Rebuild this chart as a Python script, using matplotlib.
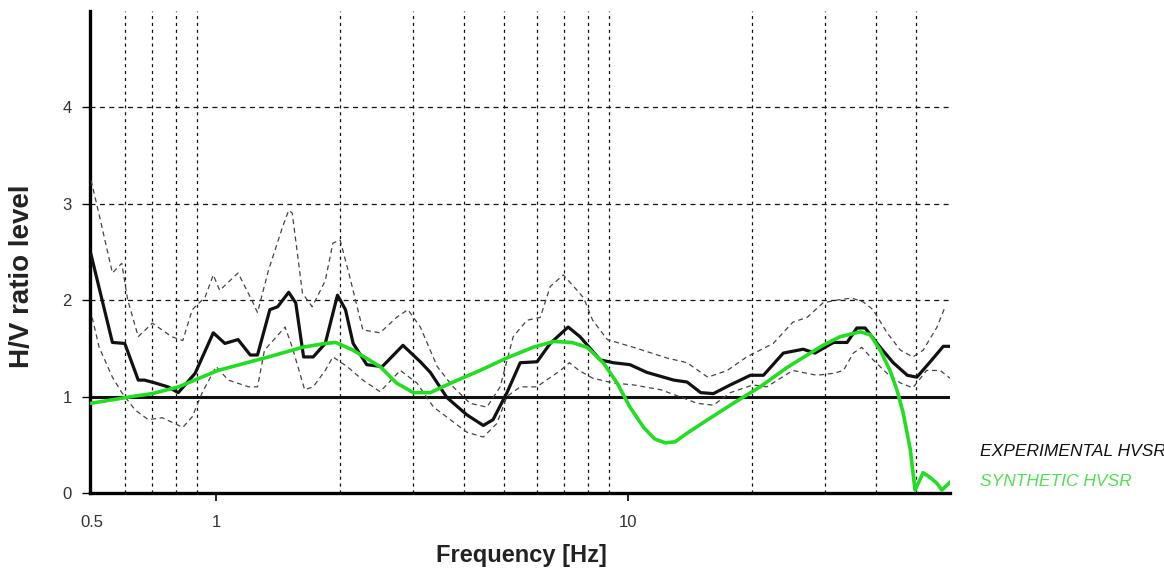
import matplotlib
matplotlib.use('Agg')
import matplotlib.pyplot as plt
from matplotlib.ticker import FixedLocator, NullFormatter

## H/V spectral ratio : experimental curve with its bounds, and the synthetic curve ##

# experimental HVSR (mean)
exp_f = [0.497, 0.56, 0.60, 0.647, 0.67, 0.711, 0.764, 0.809, 0.889, 0.984, 1.05, 1.13, 1.21, 1.26,
         1.35, 1.41, 1.50, 1.56, 1.63, 1.72, 1.84, 1.97, 2.06, 2.15, 2.32, 2.53, 2.84, 3.13, 3.31,
         3.63, 4.06, 4.45, 4.70, 5.08, 5.47, 6.01, 6.47, 7.15, 7.64, 8.55, 9.2, 10.1, 11.1, 12.9,
         13.9, 15.0, 16.1, 17.7, 19.8, 21.3, 23.8, 26.6, 28.4, 31.5, 34.0, 35.9, 37.6, 40.9, 44.0,
         47.6, 50.2, 54.1, 58.2, 60.4]
exp_v = [2.47, 1.56, 1.55, 1.17, 1.17, 1.14, 1.10, 1.04, 1.24, 1.66, 1.55, 1.59, 1.43, 1.43,
         1.90, 1.93, 2.08, 1.97, 1.41, 1.41, 1.55, 2.05, 1.90, 1.55, 1.33, 1.31, 1.53, 1.36, 1.25,
         0.99, 0.81, 0.70, 0.76, 1.04, 1.35, 1.36, 1.55, 1.72, 1.62, 1.38, 1.35, 1.33, 1.25, 1.17,
         1.15, 1.04, 1.03, 1.12, 1.22, 1.22, 1.45, 1.49, 1.45, 1.56, 1.56, 1.71, 1.71, 1.51, 1.35,
         1.22, 1.20, 1.36, 1.52, 1.52]

# upper bound (mean + std)
up_f = [0.497, 0.517, 0.56, 0.59, 0.61, 0.647, 0.70, 0.78, 0.83, 0.875, 0.94, 0.984, 1.02, 1.13,
        1.22, 1.26, 1.34, 1.45, 1.50, 1.53, 1.62, 1.71, 1.84, 1.92, 2.0, 2.11, 2.27, 2.50, 2.74,
        2.92, 3.13, 3.44, 3.76, 4.13, 4.54, 4.89, 5.26, 5.68, 6.12, 6.47, 6.96, 7.52, 7.8, 8.2,
        8.9, 9.57, 10.3, 12.4, 13.9, 15.6, 17.4, 19.4, 22.5, 25.1, 27.2, 29.7, 32.2, 34.9, 37.2,
        39.3, 42.5, 45.8, 49.1, 52.0, 56.2, 58.8]
up_v = [3.24, 2.93, 2.28, 2.38, 2.00, 1.62, 1.76, 1.62, 1.58, 1.90, 2.03, 2.26, 2.10, 2.28,
        2.00, 1.87, 2.31, 2.76, 2.93, 2.90, 2.07, 1.93, 2.20, 2.59, 2.62, 2.24, 1.69, 1.66, 1.82,
        1.90, 1.72, 1.31, 1.10, 0.93, 0.89, 1.10, 1.62, 1.79, 1.82, 2.14, 2.26, 2.10, 2.02, 1.79,
        1.59, 1.55, 1.51, 1.40, 1.35, 1.20, 1.27, 1.41, 1.55, 1.77, 1.82, 1.97, 2.00, 2.02, 1.98,
        1.90, 1.66, 1.48, 1.41, 1.48, 1.72, 1.93]

# lower bound (mean - std)
lo_f = [0.50, 0.52, 0.56, 0.59, 0.636, 0.684, 0.74, 0.83, 0.875, 0.925, 1.0, 1.07, 1.2, 1.26,
        1.31, 1.47, 1.53, 1.64, 1.72, 1.84, 1.92, 2.08, 2.27, 2.5, 2.8, 3.07, 3.37, 3.7, 4.06,
        4.45, 4.8, 5.08, 5.47, 6.0, 6.85, 7.2, 7.6, 8.2, 9.2, 10.3, 12.0, 13.3, 14.7, 16.1, 17.7,
        20.1, 21.7, 25.1, 28.7, 31.5, 33.3, 35.2, 36.9, 39.3, 42.5, 45.8, 49.1, 53.0, 57.2, 60.4]
lo_v = [1.82, 1.51, 1.20, 1.04, 0.86, 0.76, 0.78, 0.68, 0.79, 1.04, 1.31, 1.17, 1.10, 1.10,
        1.48, 1.72, 1.51, 1.07, 1.10, 1.27, 1.41, 1.31, 1.17, 1.05, 1.27, 1.14, 0.89, 0.76, 0.63,
        0.58, 0.72, 1.00, 1.10, 1.10, 1.27, 1.35, 1.27, 1.19, 1.14, 1.12, 1.07, 1.00, 0.93, 0.91,
        1.04, 1.12, 1.10, 1.27, 1.22, 1.24, 1.27, 1.45, 1.51, 1.38, 1.24, 1.14, 1.09, 1.27, 1.27,
        1.19]

# synthetic HVSR from the layered model
syn_f = [0.497, 0.626, 0.70, 0.81, 1.01, 1.34, 1.62, 1.84, 1.95, 2.15, 2.50, 2.74, 3.01, 3.31,
         3.76, 4.37, 5.08, 5.88, 6.6, 7.3, 7.95, 8.7, 9.4, 10.1, 10.9, 11.6, 12.3, 13.0, 13.9,
         15.6, 18.0, 20.9, 24.3, 26.5, 29.7, 32.7, 36.6, 38.7, 40.9, 43.2, 44.9, 46.5, 48.4, 49.7,
         52.0, 54.1, 56.2, 57.7, 60.4]
syn_v = [0.93, 1.00, 1.03, 1.10, 1.27, 1.41, 1.51, 1.55, 1.56, 1.48, 1.31, 1.14, 1.04, 1.04,
         1.15, 1.27, 1.40, 1.51, 1.57, 1.56, 1.51, 1.35, 1.14, 0.89, 0.68, 0.56, 0.52, 0.53, 0.62,
         0.76, 0.93, 1.10, 1.30, 1.40, 1.53, 1.62, 1.67, 1.64, 1.48, 1.27, 1.07, 0.83, 0.45, 0.03,
         0.21, 0.16, 0.10, 0.03, 0.11]

grid_f = [0.6, 0.7, 0.8, 0.9, 1, 2, 3, 4, 5, 6, 7, 8, 9, 10, 20, 30, 40, 50]
xtick_f = [0.5, 1, 10]
xtick_lab = ['0.5', '1', '10']
ytick_v = [0, 1, 2, 3, 4]

plt.rcParams['font.family'] = ['Liberation Sans', 'DejaVu Sans']

fig = plt.figure(figsize=(11.64, 5.71), dpi=100)
ax = fig.add_axes([0.0773, 0.1366, 0.7388, 0.845])

ax.plot(up_f, up_v, color='#444444', lw=0.9, ls=(0, (4, 3)), zorder=3)
ax.plot(lo_f, lo_v, color='#444444', lw=0.9, ls=(0, (4, 3)), zorder=3)
ax.plot(exp_f, exp_v, color='#111111', lw=2.3, zorder=4)
ax.plot(syn_f, syn_v, color='#22dd22', lw=2.6, zorder=5)
ax.axhline(1, color='#111111', lw=2.2, zorder=2)

ax.set_xscale('log')
ax.set_xlim(0.494, 60.4)
ax.set_ylim(0, 5)

# frequency grid on every log subdivision, labels only at 0.5, 1, 10
ax.xaxis.set_major_locator(FixedLocator(xtick_f))
ax.set_xticklabels(xtick_lab)
ax.xaxis.set_minor_locator(FixedLocator(grid_f))
ax.xaxis.set_minor_formatter(NullFormatter())
ax.tick_params(axis='x', which='minor', length=0)
ax.tick_params(axis='x', which='major', length=6, width=1.2, pad=10, labelsize=12, labelcolor='#333333')
ax.xaxis.get_major_ticks()[0].tick1line.set_visible(False)
ax.grid(axis='x', which='minor', color='#111111', lw=0.9, ls=(0, (2.5, 3)), zorder=1)

ax.set_yticks(ytick_v)
ax.tick_params(axis='y', length=6, width=1.0, pad=7, labelsize=12, labelcolor='#333333')
ax.grid(axis='y', which='major', color='#111111', lw=0.9, ls=(0, (4, 3.5)), zorder=1)

for s in ['top', 'right']:
    ax.spines[s].set_visible(False)
ax.spines['left'].set_linewidth(2.4)
ax.spines['bottom'].set_linewidth(2.4)

fig.text(22/1164, 1 - 276/571, 'H/V ratio level', rotation=90, ha='center', va='center',
         fontsize=20, fontweight='bold', color='#222222')
fig.text(521/1164, 1 - 562/571, 'Frequency [Hz]', ha='center', va='baseline',
         fontsize=17, fontweight='bold', color='#222222')

fig.text(980/1164, 1 - 452/571, 'EXPERIMENTAL HVSR', ha='left', va='center',
         fontsize=12.5, style='italic', color='#111111')
fig.text(980/1164, 1 - 481/571, 'SYNTHETIC HVSR', ha='left', va='center',
         fontsize=12.5, style='italic', color='#55dd55')

plt.savefig('out.png', dpi=100)
